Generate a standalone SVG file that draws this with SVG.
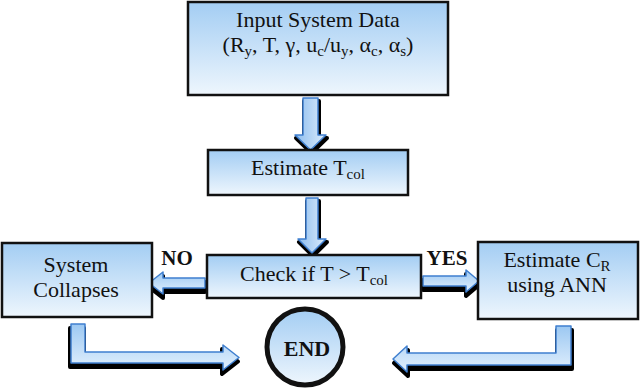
<svg xmlns="http://www.w3.org/2000/svg" width="640" height="388" viewBox="0 0 640 388">
<defs>
<linearGradient id="boxg" x1="0" y1="0" x2="0" y2="1">
<stop offset="0" stop-color="#a3cdf3"/>
<stop offset="1" stop-color="#eef6fd"/>
</linearGradient>
<linearGradient id="arrv" x1="0" y1="0" x2="1" y2="0">
<stop offset="0" stop-color="#8dbdee"/>
<stop offset="1" stop-color="#dcecfc"/>
</linearGradient>
<linearGradient id="arrh" x1="0" y1="0" x2="0" y2="1">
<stop offset="0" stop-color="#9cc8f2"/>
<stop offset="1" stop-color="#e2f0fd"/>
</linearGradient>
<style>
.box{fill:url(#boxg);stroke:#111;stroke-width:2.5}
.t{font-family:"Liberation Serif","Times New Roman",serif;font-size:22px;fill:#111;text-anchor:middle}
.b{font-family:"Liberation Serif","Times New Roman",serif;font-size:21px;font-weight:bold;fill:#111;text-anchor:middle}
.sub{font-size:15px}
.shadow{fill:#000;stroke:#000;stroke-width:4;stroke-linejoin:round}
.av{fill:url(#arrv);stroke:#3f7fcf;stroke-width:1.5;stroke-linejoin:round}
.ah{fill:url(#arrh);stroke:#3f7fcf;stroke-width:1.5;stroke-linejoin:round}
</style>
</defs>
<rect width="640" height="388" fill="#fff"/>
<g id="connectors">
<g id="arrow-input-estimate">
<path class="shadow" transform="translate(1,3)" d="M303,98 H318 V135 H326 L310.5,150 L295,135 H303 Z"/>
<path class="av" d="M303,98 H318 V135 H326 L310.5,150 L295,135 H303 Z"/>
</g>
<g id="arrow-estimate-check">
<path class="shadow" transform="translate(1,3)" d="M306,198 H318 V239 H326 L312,253 L298,239 H306 Z"/>
<path class="av" d="M306,198 H318 V239 H326 L312,253 L298,239 H306 Z"/>
</g>
<g id="arrow-no">
<path class="shadow" transform="translate(0,4)" d="M205,278 V288 H163 V294 L149,283 L163,272 V278 Z"/>
<path class="ah" d="M205,278 V288 H163 V294 L149,283 L163,272 V278 Z"/>
</g>
<g id="arrow-yes">
<path class="shadow" transform="translate(0,4)" d="M423,276 H466 V270 L479,281 L466,292 V286 H423 Z"/>
<path class="ah" d="M423,276 H466 V270 L479,281 L466,292 V286 H423 Z"/>
</g>
<g id="arrow-collapse-end">
<path class="shadow" transform="translate(-1,4)" d="M71,324 H85 V352 H223 V345 L239,357.5 L223,370 V363 H71 Z"/>
<path class="ah" d="M71,324 H85 V352 H223 V345 L239,357.5 L223,370 V363 H71 Z"/>
</g>
<g id="arrow-ann-end">
<path class="shadow" transform="translate(1,4)" d="M571,326 V365 H407 V372 L393,359 L407,346 V353 H556 V326 Z"/>
<path class="ah" d="M571,326 V365 H407 V372 L393,359 L407,346 V353 H556 V326 Z"/>
</g>
</g>
<g id="node-input">
<rect class="box" x="188" y="2" width="260" height="93"/>
<text class="t" x="318" y="27">Input System Data</text>
<text class="t" x="318" y="52">(R<tspan class="sub" dy="4">y</tspan><tspan dy="-4">, T, γ, u</tspan><tspan class="sub" dy="4">c</tspan><tspan dy="-4">/u</tspan><tspan class="sub" dy="4">y</tspan><tspan dy="-4">, α</tspan><tspan class="sub" dy="4">c</tspan><tspan dy="-4">, α</tspan><tspan class="sub" dy="4">s</tspan><tspan dy="-4">)</tspan></text>
</g>
<g id="node-estimate-tcol">
<rect class="box" x="208" y="150" width="200" height="45"/>
<text class="t" x="308" y="175">Estimate T<tspan class="sub" dy="4">col</tspan></text>
</g>
<g id="node-check">
<rect class="box" x="207" y="255" width="214" height="43"/>
<text class="t" x="314" y="281">Check if T &gt; T<tspan class="sub" dy="4">col</tspan></text>
</g>
<g id="node-collapse">
<rect class="box" x="2" y="243" width="150" height="74"/>
<text class="t" x="76" y="272">System</text>
<text class="t" x="76" y="297">Collapses</text>
</g>
<g id="node-ann">
<rect class="box" x="478" y="242" width="160" height="77"/>
<text class="t" x="557" y="267">Estimate C<tspan class="sub" dy="4">R</tspan></text>
<text class="t" x="557" y="292">using ANN</text>
</g>
<g id="node-end">
<circle cx="305" cy="347" r="38" fill="url(#boxg)" stroke="#111" stroke-width="5"/>
<text class="b" x="307" y="356" style="font-size:22px">END</text>
</g>
<g id="labels">
<text class="b" x="177" y="265">NO</text>
<text class="b" x="447" y="265">YES</text>
</g>
</svg>
